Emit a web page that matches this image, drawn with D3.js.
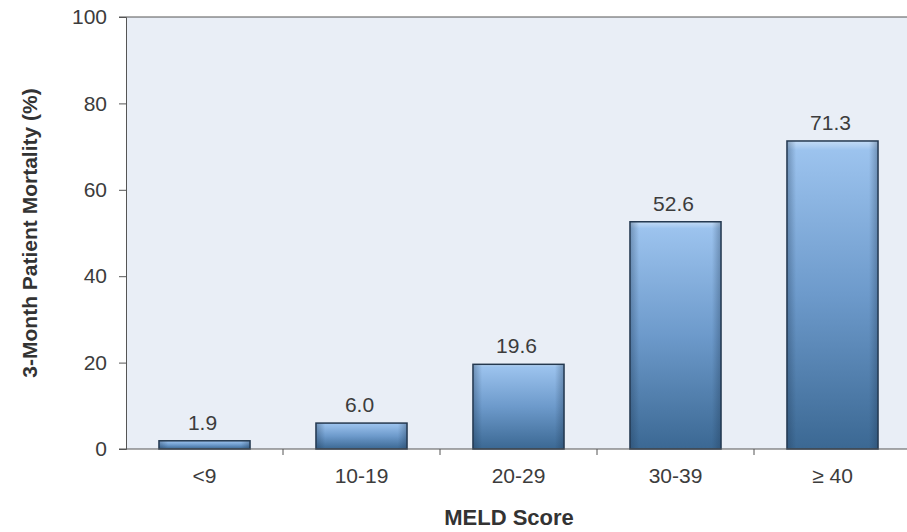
<!DOCTYPE html>
<html>
<head>
<meta charset="utf-8">
<script src="https://cdn.jsdelivr.net/npm/d3@7"></script>
<style>
  body { margin: 0; background: #fff; }
  text { font-family: "Liberation Sans", Arial, sans-serif; }
</style>
</head>
<body>
<div id="okvir"></div>
<script>
// podaci
const kategorije = ["<9", "10-19", "20-29", "30-39", "\u2265 40"];
const smrtnost = [1.9, 6.0, 19.6, 52.6, 71.3];
const yTikovi = [0, 20, 40, 60, 80, 100];

const dim = {
    sirina: 907,
    visina: 532,
    margine: { top: 17, right: -4, bottom: 83, left: 126 }
};
dim.grSirina = dim.sirina - dim.margine.left - dim.margine.right;
dim.grVisina = dim.visina - dim.margine.top - dim.margine.bottom;

const svg = d3.select("#okvir").append("svg")
    .attr("width", dim.sirina)
    .attr("height", dim.visina);

const defs = svg.append("defs");
const grad = defs.append("linearGradient")
    .attr("id", "stupac").attr("x1", 0).attr("y1", 0).attr("x2", 0).attr("y2", 1);
grad.append("stop").attr("offset", "0%").attr("stop-color", "#c4dcf6");
grad.append("stop").attr("offset", "3%").attr("stop-color", "#9cc3ee");
grad.append("stop").attr("offset", "50%").attr("stop-color", "#6d9acb");
grad.append("stop").attr("offset", "100%").attr("stop-color", "#3b6893");

const sjena = defs.append("linearGradient")
    .attr("id", "rub").attr("x1", 0).attr("y1", 0).attr("x2", 1).attr("y2", 0);
sjena.append("stop").attr("offset", "0%").attr("stop-color", "#1d3550").attr("stop-opacity", 0.35);
sjena.append("stop").attr("offset", "10%").attr("stop-color", "#1d3550").attr("stop-opacity", 0);
sjena.append("stop").attr("offset", "90%").attr("stop-color", "#1d3550").attr("stop-opacity", 0);
sjena.append("stop").attr("offset", "100%").attr("stop-color", "#1d3550").attr("stop-opacity", 0.35);

const g = svg.append("g")
    .attr("transform", `translate(${dim.margine.left},${dim.margine.top})`);

const xSkala = d3.scaleBand()
    .domain(kategorije)
    .range([0, dim.grSirina])
    .paddingInner(0.42)
    .paddingOuter(0.21);

const ySkala = d3.scaleLinear()
    .domain([0, 100])
    .range([dim.grVisina, 0]);

// pozadina
g.append("rect")
    .attr("x", 0).attr("y", 0)
    .attr("width", dim.grSirina).attr("height", dim.grVisina)
    .attr("fill", "#e9eef6");

// gornja linija
g.append("line")
    .attr("x1", -7).attr("x2", dim.grSirina)
    .attr("y1", 0).attr("y2", 0)
    .attr("stroke", "#555").attr("stroke-width", 1);

// stupci
g.selectAll(".stupac")
    .data(smrtnost)
    .join("rect")
    .attr("class", "stupac")
    .attr("x", (d, i) => xSkala(kategorije[i]))
    .attr("y", d => ySkala(d))
    .attr("width", xSkala.bandwidth())
    .attr("height", d => ySkala(0) - ySkala(d))
    .attr("fill", "url(#stupac)")
    .attr("stroke", "#24384f")
    .attr("stroke-width", 1.5);

g.selectAll(".rub")
    .data(smrtnost)
    .join("rect")
    .attr("class", "rub")
    .attr("x", (d, i) => xSkala(kategorije[i]))
    .attr("y", d => ySkala(d))
    .attr("width", xSkala.bandwidth())
    .attr("height", d => ySkala(0) - ySkala(d))
    .attr("fill", "url(#rub)");

// oznake vrijednosti
g.selectAll(".vrijednost")
    .data(smrtnost)
    .join("text")
    .attr("class", "vrijednost")
    .attr("x", (d, i) => xSkala(kategorije[i]) + xSkala.bandwidth() / 2 - 2)
    .attr("y", d => ySkala(d) - 11)
    .attr("text-anchor", "middle")
    .attr("fill", "#3c3c3c")
    .style("font-size", "21px")
    .text(d => d.toFixed(1));

// y os
const yOs = g.append("g")
    .call(d3.axisLeft(ySkala).tickValues(yTikovi).tickSize(7).tickPadding(12));
yOs.select(".domain").attr("stroke", "#555");
yOs.selectAll(".tick line").attr("stroke", "#555");
yOs.selectAll(".tick text").attr("fill", "#3c3c3c").style("font-size", "21px");

// x os
const xOs = g.append("g")
    .attr("transform", `translate(0,${dim.grVisina})`);
xOs.append("line")
    .attr("x1", -7).attr("x2", dim.grSirina)
    .attr("stroke", "#555");
xOs.selectAll(".granica")
    .data(kategorije.slice(1))
    .join("line")
    .attr("class", "granica")
    .attr("x1", d => xSkala(d) - xSkala.step() * xSkala.paddingInner() / 2)
    .attr("x2", d => xSkala(d) - xSkala.step() * xSkala.paddingInner() / 2)
    .attr("y1", 0).attr("y2", 6)
    .attr("stroke", "#555");
xOs.selectAll(".kat")
    .data(kategorije)
    .join("text")
    .attr("class", "kat")
    .attr("x", d => xSkala(d) + xSkala.bandwidth() / 2)
    .attr("y", 34)
    .attr("text-anchor", "middle")
    .attr("fill", "#3c3c3c")
    .style("font-size", "21px")
    .text(d => d);

// naslovi osi
svg.append("text")
    .attr("x", 509)
    .attr("y", 525)
    .attr("text-anchor", "middle")
    .attr("fill", "#333")
    .style("font-size", "22px")
    .style("font-weight", "bold")
    .text("MELD Score");

svg.append("text")
    .attr("transform", `translate(37,${dim.margine.top + dim.grVisina / 2}) rotate(-90)`)
    .attr("text-anchor", "middle")
    .attr("fill", "#333")
    .style("font-size", "21px")
    .style("font-weight", "bold")
    .text("3-Month Patient Mortality (%)");
</script>
</body>
</html>
